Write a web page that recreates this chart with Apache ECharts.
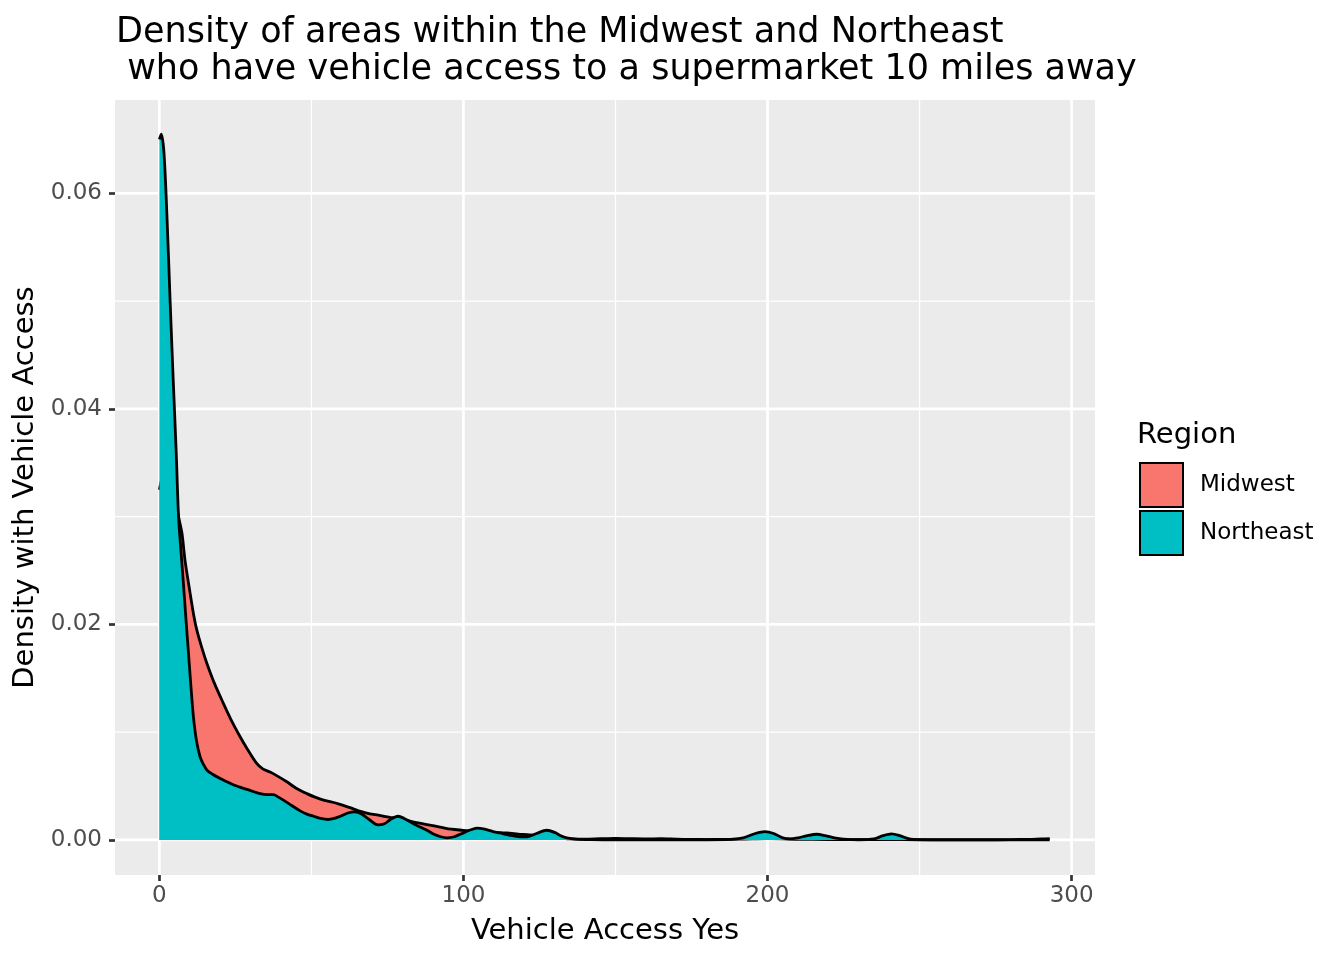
<!DOCTYPE html>
<html>
<head>
<meta charset="utf-8">
<script src="https://cdn.jsdelivr.net/npm/echarts@6/dist/echarts.min.js"></script>
<style>
html,body{margin:0;padding:0;background:#fff;}
#chart{width:1344px;height:960px;}
</style>
</head>
<body>
<div id="chart"></div>
<script>
// ---- data ----
var regions = ['Midwest', 'Northeast'];
var midwestX = [0,1,2,3,4,5,6.3,7.4,8.5,10.1,11.2,12.3,14,15.6,18,21,23.5,26.5,29,32,34,36.4,39,41.9,45,48.5,51,54,57,59.4,62.7,65.5,68.2,72,75.9,80,84.6,88.5,92.3,96,99.9,104,109,114.2,118,121.9,126,130,135,140,145,150,155,160,165,170,175,180,185,190,195,200,205,210,220,230,240,250,260,270,280,286,290,292.8];
var midwestY = [0.0325,0.0337,0.0343,0.0343,0.0336,0.0322,0.0300,0.0285,0.0258,0.0229,0.0210,0.0195,0.0178,0.0164,0.0146,0.0127,0.0112,0.0096,0.0084,0.0071,0.0066,0.0063,0.0059,0.0054,0.0048,0.0043,0.0040,0.0037,0.0035,0.0033,0.0030,0.0027,0.0025,0.0023,0.0021,0.0019,0.0016,0.0014,0.0012,0.0010,0.0009,0.0008,0.0007,0.00065,0.00055,0.00046,0.0003,0.0002,0.0001,0.00008,0.00012,0.00015,0.00012,0.0001,0.00012,0.00008,0.00005,0.00004,0.00005,0.00008,0.0001,0.00012,0.0001,0.00006,0.00004,0.00003,0.00003,0.00002,0.00002,0.00002,0.00003,0.00006,0.0001,0.00012];
var northeastX = [0,0.6,1.5,2.5,3.5,4.5,5.5,6.3,7.1,7.9,8.7,9.5,10.3,11.2,12.2,13.4,14.5,15.6,17.5,20,22.2,24.5,26.5,29.8,33.1,35.5,37.5,39,40.8,43.5,46.3,48.5,50.7,53,55.5,57.5,59.5,62,64.3,66.5,69,71.9,74,76,78.5,80.5,83,85.7,88,90.5,92.5,94.5,97,99.5,102,104.4,107,109.5,112,115,118.6,121,124,127.4,130,132,134,137,142,150,160,170,180,188,192,196,199.2,202,205,207.4,210,213,216.2,219,222,225,230,235,238,240.8,243.5,246,248,255,265,280,292.8];
var northeastY = [0.0650,0.0655,0.0638,0.0578,0.0502,0.0430,0.0362,0.0300,0.0268,0.0238,0.0206,0.0176,0.0145,0.0114,0.0092,0.0077,0.0070,0.0065,0.0061,0.0057,0.0054,0.0051,0.0049,0.0046,0.0043,0.0042,0.0042,0.0040,0.0037,0.0032,0.0027,0.0024,0.0022,0.0020,0.0019,0.0020,0.0022,0.0025,0.0026,0.0024,0.0019,0.0014,0.0015,0.0019,0.0022,0.0020,0.0016,0.0012,0.0009,0.0005,0.0003,0.0002,0.0003,0.0006,0.0009,0.0011,0.0010,0.0008,0.00065,0.00045,0.0003,0.0003,0.0006,0.0009,0.0007,0.0004,0.0002,0.00008,0.00003,0.00002,0.00002,0.00002,0.00002,0.00005,0.0002,0.0006,0.00077,0.0006,0.0002,0.0001,0.0002,0.0004,0.00053,0.0004,0.0002,0.00008,0.00002,0.0001,0.0004,0.00056,0.0004,0.00015,0.00005,0.00001,0,0,0];
var xMajorTicks = [0, 100, 200, 300];
var xMinorTicks = [50, 150, 250];
var yMajorTicks = [0, 0.02, 0.04, 0.06];
var yMinorTicks = [0.01, 0.03, 0.05];
var fillColors = ['#F8766D', '#00BFC4'];

var X_MIN = -14.6, X_MAX = 307.7, Y_MIN = -0.00325, Y_MAX = 0.06866;

function pairs(xs, ys) { return xs.map(function (x, i) { return [x, ys[i]]; }); }
// gridline segments across the panel, broken with '-' between lines
function vLines(vals) { var d = []; vals.forEach(function (v) { d.push([v, Y_MIN], [v, Y_MAX], ['-', '-']); }); return d; }
function hLines(vals) { var d = []; vals.forEach(function (v) { d.push([X_MIN, v], [X_MAX, v], ['-', '-']); }); return d; }

var FONT = 'DejaVu Sans';
var chart = echarts.init(document.getElementById('chart'), null, {renderer: 'canvas'});

function gridSeries(data, width) {
  return {type: 'line', data: data, z: 1, silent: true, symbol: 'none', showSymbol: false,
    connectNulls: false, smooth: false, animation: false,
    lineStyle: {color: '#ffffff', width: width}, tooltip: {show: false}, legendHoverLink: false};
}

var option = {
  backgroundColor: '#ffffff',
  animation: false,
  title: [
    {
      text: 'Density of areas within the Midwest and Northeast\n who have vehicle access to a supermarket 10 miles away',
      left: 111, top: 9,
      textStyle: {fontFamily: FONT, fontSize: 35, fontWeight: 'normal', color: '#000', lineHeight: 37}
    },
    {
      text: 'Region',
      left: 1132, top: 414,
      textStyle: {fontFamily: FONT, fontSize: 29, fontWeight: 'normal', color: '#000', lineHeight: 32}
    }
  ],
  grid: {left: 115, top: 100, width: 980, height: 775, show: true, backgroundColor: '#EBEBEB', borderWidth: 0, containLabel: false},
  legend: {
    orient: 'vertical', left: 1134, top: 457,
    icon: 'rect', itemWidth: 43, itemHeight: 44, itemGap: 2,
    itemStyle: {borderColor: '#000', borderWidth: 2},
    textStyle: {fontFamily: FONT, fontSize: 23, color: '#000', padding: [0, 0, 0, 12]},
    data: regions.map(function (r, i) { return {name: r, itemStyle: {color: fillColors[i], borderColor: '#000', borderWidth: 2}}; })
  },
  xAxis: {
    type: 'value', min: X_MIN, max: X_MAX,
    name: 'Vehicle Access Yes', nameLocation: 'middle', nameGap: 42,
    nameTextStyle: {fontFamily: FONT, fontSize: 29, color: '#000'},
    axisLine: {show: true, onZero: false, lineStyle: {color: 'rgba(0,0,0,0)', width: 0.1}},
    axisTick: {show: true, length: 6, lineStyle: {color: '#333333', width: 2.7}, customValues: xMajorTicks},
    axisLabel: {fontFamily: FONT, fontSize: 23, color: '#4D4D4D', margin: 10, customValues: xMajorTicks,
      formatter: function (v) { return String(v); }},
    splitLine: {show: false}
  },
  yAxis: {
    type: 'value', min: Y_MIN, max: Y_MAX,
    name: 'Density with Vehicle Access', nameLocation: 'middle', nameGap: 70, nameRotate: 90,
    nameTextStyle: {fontFamily: FONT, fontSize: 29, color: '#000'},
    axisLine: {show: true, onZero: false, lineStyle: {color: 'rgba(0,0,0,0)', width: 0.1}},
    axisTick: {show: true, length: 6, lineStyle: {color: '#333333', width: 2.7}, customValues: yMajorTicks},
    axisLabel: {fontFamily: FONT, fontSize: 23, color: '#4D4D4D', margin: 13, customValues: yMajorTicks,
      formatter: function (v) { return v.toFixed(2); }},
    splitLine: {show: false}
  },
  series: [
    gridSeries(vLines(xMinorTicks), 1.3),
    gridSeries(hLines(yMinorTicks), 1.3),
    gridSeries(vLines(xMajorTicks), 2.7),
    gridSeries(hLines(yMajorTicks), 2.7),
    {
      name: regions[0], type: 'line', z: 2, data: pairs(midwestX, midwestY),
      showSymbol: false, symbol: 'none', smooth: 0.3,
      color: fillColors[0], itemStyle: {color: fillColors[0]},
      lineStyle: {color: '#000', width: 2.8},
      areaStyle: {color: fillColors[0], opacity: 1, origin: 'auto'}
    },
    {
      name: regions[1], type: 'line', z: 3, data: pairs(northeastX, northeastY),
      showSymbol: false, symbol: 'none', smooth: 0.3,
      color: fillColors[1], itemStyle: {color: fillColors[1]},
      lineStyle: {color: '#000', width: 2.8},
      areaStyle: {color: fillColors[1], opacity: 1, origin: 'auto'}
    }
  ]
};
chart.setOption(option);
</script>
</body>
</html>
